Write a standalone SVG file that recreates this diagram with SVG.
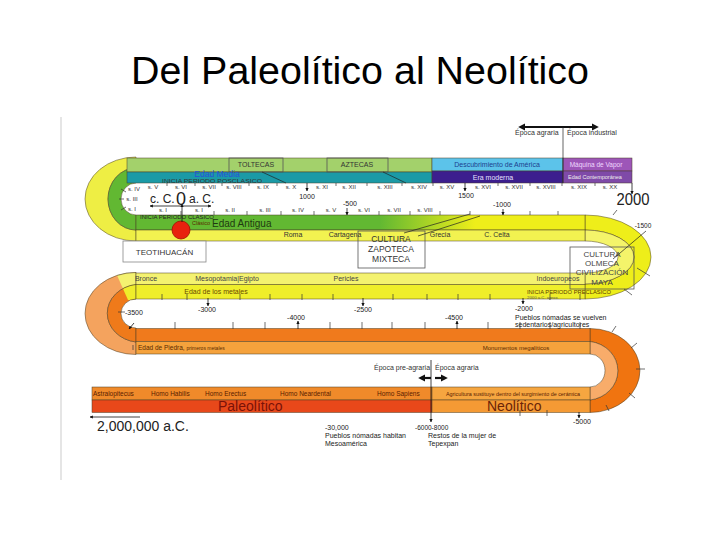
<svg xmlns="http://www.w3.org/2000/svg" width="720" height="540" viewBox="0 0 720 540">
<defs>
<style>
text{font-family:"Liberation Sans",Arial,sans-serif}
.s{font-size:6px;fill:#333;text-anchor:middle}
.sm{font-size:7px;fill:#222}
.c{text-anchor:middle}
.bd{stroke:#4a3f25;stroke-width:0.5}
.bx{fill:none;stroke:#555;stroke-width:0.8}
.ln{stroke:#222;stroke-width:0.7;fill:none}
.tk{stroke:#333;stroke-width:0.7}
.ar{stroke:#111;stroke-width:0.8;fill:none;marker-end:url(#ah)}
.bar{stroke:#111;stroke-width:2.2;fill:none}
</style>
<marker id="ah" viewBox="0 0 10 10" refX="9" refY="5" markerWidth="4" markerHeight="4" orient="auto-start-reverse"><path d="M0,0 L10,5 L0,10 z" fill="#111"/></marker>
<marker id="ahb" viewBox="0 0 10 10" refX="6" refY="5" markerWidth="3.2" markerHeight="3.2" orient="auto-start-reverse"><path d="M0,0 L10,5 L0,10 z" fill="#111"/></marker>
<linearGradient id="gg" gradientUnits="userSpaceOnUse" x1="380" y1="0" x2="475" y2="0">
<stop offset="0" stop-color="#62b832"/><stop offset="1" stop-color="#eeee1a"/>
</linearGradient>
<clipPath id="cl2"><polygon points="108,255 600,255 600,300 128,300"/></clipPath>
</defs>
<rect width="720" height="540" fill="#fff"/>
<line x1="61" y1="117" x2="61" y2="480" stroke="#d4d4d4" stroke-width="1.2"/>
<text x="360" y="84" font-size="38" fill="#000" class="c" textLength="458" lengthAdjust="spacingAndGlyphs">Del Paleolítico al Neolítico</text>

<g id="bands">
<path class="bd" fill="#eeee44" d="M136,157 A51,42 0 0 0 136,241 L136,230 A28,31 0 0 1 136,168 Z"/>
<path class="bd" fill="#62b832" d="M136,168 A28,31 0 0 0 136,230 L136,215 A15,16 0 0 1 136,183 Z"/>
<rect class="bd" x="127" y="158" width="305" height="14" fill="#a3d16b"/>
<rect class="bd" x="127" y="172" width="305" height="11" fill="#1b9aa6"/>
<rect class="bd" x="432" y="158" width="131" height="13" fill="#5cc3ea"/>
<rect class="bd" x="432" y="171" width="131" height="12" fill="#3c1e8e"/>
<rect class="bd" x="563" y="158" width="69" height="13" fill="#9d56b8"/>
<rect class="bd" x="563" y="171" width="69" height="12" fill="#7f4aa8"/>
<path class="bd" fill="#eeee1a" d="M585,215 A66,42 0 0 1 585,299 L585,284 A49,27 0 0 0 585,230 Z"/>
<path class="bd" fill="#f4f46a" d="M585,230 A49,27 0 0 1 585,284 L585,273 A33,16 0 0 0 585,241 Z"/>
<rect class="bd" x="136" y="215" width="449" height="15" fill="url(#gg)"/>
<rect class="bd" x="136" y="230" width="449" height="11" fill="#f2f250"/>
<path class="bd" fill="#f4a35e" d="M136,272.5 A51,41 0 0 0 136,354.5 L136,342 A33,29 0 0 1 136,284.5 Z"/>
<path class="bd" fill="#ef7a1a" d="M136,284.5 A33,29 0 0 0 136,342 L136,328 A15,14.5 0 0 1 136,299 Z"/>
<g clip-path="url(#cl2)">
<path class="bd" fill="#f4f270" d="M136,272.5 A51,41 0 0 0 136,354.5 L136,342 A33,29 0 0 1 136,284.5 Z"/>
<path class="bd" fill="#efee2a" d="M136,284.5 A33,29 0 0 0 136,342 L136,328 A15,14.5 0 0 1 136,299 Z"/>
</g>
<rect class="bd" x="136" y="273" width="449" height="11.5" fill="#f4f270"/>
<rect class="bd" x="136" y="284.5" width="449" height="14.5" fill="#efee2a"/>
<path class="bd" fill="#f07410" d="M590,328.5 A50,42 0 0 1 590,412.5 L590,400 A32,29.5 0 0 0 590,341.5 Z"/>
<path class="bd" fill="#f8ac6a" d="M590,341.5 A32,29.5 0 0 1 590,400 L590,387 A15,16.5 0 0 0 590,354 Z"/>
<rect class="bd" x="136" y="328.5" width="454" height="13" fill="#f07a1c"/>
<rect class="bd" x="136" y="341.5" width="454" height="12.5" fill="#f5a23c"/>
<rect class="bd" x="92" y="387" width="340" height="13" fill="#f08a2a"/>
<rect class="bd" x="92" y="400" width="340" height="12.5" fill="#e8481a"/>
<rect class="bd" x="432" y="387" width="158" height="13" fill="#f6a640"/>
<rect class="bd" x="432" y="400" width="158" height="12.5" fill="#f59a34"/>
</g>

<g id="node-toltecas"><rect class="bx" x="229" y="158" width="54" height="14"/><text x="256" y="167" font-size="7" fill="#333" class="c">TOLTECAS</text></g>
<g id="node-aztecas"><rect class="bx" x="327" y="158" width="61" height="14"/><text x="357" y="166.5" font-size="7" fill="#333" class="c">AZTECAS</text></g>
<g id="node-teotihuacan"><rect x="123" y="241" width="83" height="21" fill="#fff" stroke="#888" stroke-width="0.8"/><text x="164.5" y="255" font-size="8" fill="#333" class="c">TEOTIHUACÁN</text></g>
<g id="node-zapoteca"><rect class="bx" x="358" y="231" width="67" height="37"/>
<text x="391" y="242" font-size="8.5" fill="#333" class="c">CULTURA</text>
<text x="391" y="252" font-size="8.5" fill="#333" class="c">ZAPOTECA</text>
<text x="391" y="262" font-size="8.5" fill="#333" class="c">MIXTECA</text></g>
<g id="node-olmeca"><rect class="bx" x="570" y="247" width="64" height="42"/>
<text x="602" y="256.5" font-size="8" fill="#444" class="c">CULTURA</text>
<text x="602" y="265.5" font-size="8" fill="#444" class="c">OLMECA</text>
<text x="602" y="275" font-size="8" fill="#444" class="c">CIVILIZACIÓN</text>
<text x="602" y="284.5" font-size="8" fill="#444" class="c">MAYA</text></g>
<g id="node-circle"><circle cx="181" cy="230" r="9" fill="#e8220e" stroke="#a01000" stroke-width="0.8"/></g>

<g id="labels">
<text x="497" y="166.5" font-size="7" fill="#1d3f8f" class="c">Descubrimiento de América</text>
<text x="596" y="166.5" font-size="6.5" fill="#f0d8ff" class="c">Máquina de Vapor</text>
<text x="493" y="180" font-size="7" fill="#e4e0ff" class="c">Era moderna</text>
<text x="595" y="179" font-size="5.5" fill="#eee" class="c">Edad Contemporánea</text>
<text x="217" y="176.5" font-size="8.5" fill="#2a50d8" class="c">Edad Media</text>
<text x="212" y="182.8" font-size="4.6" fill="#333" class="c" textLength="100" lengthAdjust="spacingAndGlyphs">INICIA PERIODO POSCLASICO</text>
<text x="515" y="135" font-size="7" fill="#333">Época agraria</text>
<text x="567" y="135" font-size="7" fill="#333">Época industrial</text>

<text x="134" y="191" class="s">s. IV</text>
<text x="132" y="201" class="s">s. III</text>
<text x="132" y="211" class="s">s. I</text>
<text x="153" y="189" class="s">s. V</text>
<text x="181" y="189" class="s">s. VI</text>
<text x="209" y="189" class="s">s. VII</text>
<text x="234" y="189" class="s">s. VIII</text>
<text x="263" y="189" class="s">s. IX</text>
<text x="291" y="189" class="s">s. X</text>
<text x="322" y="189" class="s">s. XI</text>
<text x="349" y="189" class="s">s. XII</text>
<text x="385" y="189" class="s">s. XIII</text>
<text x="419" y="189" class="s">s. XIV</text>
<text x="447" y="189" class="s">s. XV</text>
<text x="483" y="189" class="s">s. XVI</text>
<text x="514" y="189" class="s">s. XVII</text>
<text x="546" y="189" class="s">s. XVIII</text>
<text x="579" y="189" class="s">s. XIX</text>
<text x="610" y="189" class="s">s. XX</text>
<text x="307" y="199" font-size="7" fill="#222" class="c">1000</text>
<text x="466" y="198" font-size="7" fill="#222" class="c">1500</text>
<text x="633" y="205" font-size="17" fill="#222" class="c" textLength="33" lengthAdjust="spacingAndGlyphs">2000</text>
<text x="150" y="203" font-size="12" fill="#222">c. C.</text>
<text x="176" y="205" font-size="18" fill="#222">0</text>
<text x="189" y="203" font-size="12" fill="#222">a. C.</text>
<text x="163" y="212" class="s">s. I</text>
<text x="199" y="212" class="s">s. I</text>
<text x="230" y="212" class="s">s. II</text>
<text x="265" y="212" class="s">s. III</text>
<text x="298" y="212" class="s">s. IV</text>
<text x="331" y="212" class="s">s. V</text>
<text x="364" y="212" class="s">s. VI</text>
<text x="394" y="212" class="s">s. VII</text>
<text x="425" y="212" class="s">s. VIII</text>
<text x="350" y="206" font-size="7" fill="#222" class="c">-500</text>
<text x="502" y="207" font-size="7" fill="#222" class="c">-1000</text>
<text x="643" y="228" font-size="6.5" fill="#222" class="c">-1500</text>

<text x="177" y="219" font-size="5.2" fill="#222" class="c" textLength="74" lengthAdjust="spacingAndGlyphs">INICIA PERIODO CLASICO</text>
<text x="192" y="225" font-size="5.5" fill="#5a2a00">Clásico</text>
<text x="212" y="227" font-size="10" fill="#1f3a10">Edad Antigua</text>
<text x="293" y="237" font-size="7" fill="#333" class="c">Roma</text>
<text x="345" y="237" font-size="7" fill="#333" class="c">Cartagena</text>
<text x="440" y="237" font-size="7" fill="#333" class="c">Grecia</text>
<text x="497" y="237" font-size="7" fill="#333" class="c">C. Celta</text>

<text x="146" y="281" font-size="7" fill="#444" class="c">Bronce</text>
<text x="227" y="281" font-size="7" fill="#444" class="c">Mesopotamia|Egipto</text>
<text x="346" y="281" font-size="7" fill="#444" class="c">Pericles</text>
<text x="558" y="281" font-size="7" fill="#444" class="c">Indoeuropeos</text>
<text x="216" y="294" font-size="7" fill="#6a4a00" class="c">Edad de los metales</text>
<text x="527" y="294" font-size="5.2" fill="#5a3a00" textLength="84" lengthAdjust="spacingAndGlyphs">INICIA PERIODO PRECLASICO</text>
<text x="527" y="299" font-size="4.3" fill="#555">2000 a.C. aprox.</text>
<text x="207" y="312" font-size="7" fill="#222" class="c">-3000</text>
<text x="363" y="312" font-size="7" fill="#222" class="c">-2500</text>
<text x="515" y="311" font-size="7" fill="#222">-2000</text>
<text x="515" y="319.5" font-size="7" fill="#222">Pueblos nómadas se vuelven</text>
<text x="515" y="327" font-size="7" fill="#222">sedentarios/agricultores</text>
<text x="125" y="315" font-size="7" fill="#222">-3500</text>
<text x="296" y="320" font-size="7" fill="#222" class="c">-4000</text>
<text x="454" y="320" font-size="7" fill="#222" class="c">-4500</text>
<text x="138" y="350" font-size="6.5" fill="#5a2a00">Edad de Piedra, <tspan font-size="5">primeros metales</tspan></text>
<text x="516" y="350" font-size="6" fill="#5a2a00" class="c">Monumentos megalíticos</text>
<text x="374" y="370" font-size="7" fill="#333">Época pre-agraria</text>
<text x="435" y="370" font-size="7" fill="#333">Época agraria</text>
<text x="93" y="396" font-size="6.5" fill="#5a2000">Astralopitecus</text>
<text x="151" y="396" font-size="6.5" fill="#5a2000">Homo Habilis</text>
<text x="205" y="396" font-size="6.5" fill="#5a2000">Homo Erectus</text>
<text x="280" y="396" font-size="6.5" fill="#5a2000">Homo Neardental</text>
<text x="377" y="396" font-size="6.5" fill="#5a2000">Homo Sapiens</text>
<text x="446" y="396" font-size="4.8" fill="#5a2000" textLength="134" lengthAdjust="spacingAndGlyphs">Agricultura sustituye dentro del surgimiento de cerámica</text>
<text x="218" y="411" font-size="14" fill="#7a1208">Paleolítico</text>
<text x="487" y="411" font-size="14" fill="#6a2508">Neolítico</text>
<text x="97" y="431" font-size="14" fill="#222">2,000,000 a.C.</text>
<text x="325" y="429.5" font-size="7" fill="#222">-30,000</text>
<text x="325" y="437.5" font-size="7" fill="#222">Pueblos nómadas habitan</text>
<text x="325" y="445.5" font-size="7" fill="#222">Mesoamérica</text>
<text x="415" y="429.5" font-size="6.5" fill="#222">-6000-8000</text>
<text x="428" y="437.5" font-size="7" fill="#222">Restos de la mujer de</text>
<text x="428" y="445.5" font-size="7" fill="#222">Tepexpan</text>
<text x="582" y="424" font-size="7" fill="#222" class="c">-5000</text>
</g>

<g id="connectors">
<line class="bar" x1="521" y1="127" x2="596" y2="127" marker-start="url(#ahb)" marker-end="url(#ahb)"/>
<line class="ln" x1="563" y1="127" x2="563" y2="183"/>
<line class="ar" x1="307" y1="183" x2="307" y2="191"/>
<line class="ar" x1="465" y1="183" x2="465" y2="191"/>
<line class="ar" x1="632" y1="183" x2="632" y2="194"/>
<line class="ar" x1="182" y1="222" x2="182" y2="204"/>
<line class="ar" x1="181" y1="206" x2="150" y2="206"/>
<line class="ar" x1="183" y1="206" x2="211" y2="206"/>
<line class="ar" x1="347" y1="208" x2="347" y2="215"/>
<line class="ar" x1="503" y1="209" x2="503" y2="215"/>
<line class="ln" x1="646" y1="231" x2="613" y2="259"/>
<line class="ln" x1="262" y1="172" x2="286" y2="183"/>
<line class="ln" x1="383" y1="172" x2="406" y2="183"/>
<line class="ln" x1="404" y1="233" x2="470" y2="214"/>
<line class="ln" x1="418" y1="236" x2="480" y2="216"/>
<line class="ar" x1="208" y1="298" x2="208" y2="306"/>
<line class="ar" x1="363" y1="298" x2="363" y2="306"/>
<line class="ar" x1="523" y1="298" x2="523" y2="304"/>
<line class="ar" x1="298" y1="329" x2="298" y2="321"/>
<line class="ar" x1="457" y1="329" x2="457" y2="321"/>
<line class="tk" x1="118" y1="312" x2="125" y2="312"/>
<line class="ar" x1="134" y1="323" x2="129" y2="329"/>
<line class="tk" x1="133" y1="345" x2="133" y2="350"/>
<line class="bar" x1="431" y1="378" x2="421" y2="378" marker-end="url(#ahb)"/>
<line class="bar" x1="435" y1="378" x2="445" y2="378" marker-end="url(#ahb)"/>
<line class="ar" x1="431" y1="360" x2="431" y2="422"/>
<line class="ar" x1="140" y1="417" x2="90" y2="417"/>
<line class="ar" x1="579" y1="412" x2="579" y2="418"/>
<g class="tk">
<line x1="121" y1="189" x2="126" y2="192"/><line x1="119" y1="199" x2="124" y2="199"/><line x1="121" y1="210" x2="126" y2="207"/>
<line x1="167" y1="183" x2="167" y2="186"/><line x1="195" y1="183" x2="195" y2="186"/><line x1="222" y1="183" x2="222" y2="186"/><line x1="249" y1="183" x2="249" y2="186"/><line x1="277" y1="183" x2="277" y2="186"/><line x1="336" y1="183" x2="336" y2="186"/><line x1="367" y1="183" x2="367" y2="186"/><line x1="402" y1="183" x2="402" y2="186"/><line x1="433" y1="183" x2="433" y2="186"/><line x1="498" y1="183" x2="498" y2="186"/><line x1="530" y1="183" x2="530" y2="186"/><line x1="562" y1="183" x2="562" y2="186"/><line x1="595" y1="183" x2="595" y2="186"/>
<line x1="181" y1="211" x2="181" y2="215"/><line x1="214" y1="211" x2="214" y2="215"/><line x1="247" y1="211" x2="247" y2="215"/><line x1="281" y1="211" x2="281" y2="215"/><line x1="314" y1="211" x2="314" y2="215"/><line x1="379" y1="211" x2="379" y2="215"/><line x1="410" y1="211" x2="410" y2="215"/><line x1="440" y1="211" x2="440" y2="215"/><line x1="470" y1="211" x2="470" y2="215"/><line x1="530" y1="211" x2="530" y2="215"/><line x1="558" y1="211" x2="558" y2="215"/>
<line x1="613" y1="215" x2="617" y2="210"/><line x1="637" y1="268" x2="650" y2="276"/><line x1="624" y1="289" x2="632" y2="295"/>
<line x1="162" y1="294" x2="162" y2="300"/><line x1="187" y1="294" x2="187" y2="300"/><line x1="240" y1="294" x2="240" y2="300"/><line x1="270" y1="294" x2="270" y2="300"/><line x1="302" y1="294" x2="302" y2="300"/><line x1="333" y1="294" x2="333" y2="300"/><line x1="393" y1="294" x2="393" y2="300"/><line x1="427" y1="294" x2="427" y2="300"/><line x1="458" y1="294" x2="458" y2="300"/><line x1="490" y1="294" x2="490" y2="300"/><line x1="550" y1="294" x2="550" y2="300"/><line x1="580" y1="294" x2="580" y2="300"/>
<line x1="175" y1="322" x2="175" y2="329"/><line x1="233" y1="322" x2="233" y2="329"/><line x1="265" y1="322" x2="265" y2="329"/><line x1="330" y1="322" x2="330" y2="329"/><line x1="362" y1="322" x2="362" y2="329"/><line x1="392" y1="322" x2="392" y2="329"/><line x1="425" y1="322" x2="425" y2="329"/><line x1="488" y1="322" x2="488" y2="329"/><line x1="520" y1="322" x2="520" y2="329"/><line x1="550" y1="322" x2="550" y2="329"/><line x1="580" y1="322" x2="580" y2="329"/>
<line x1="612" y1="332" x2="616" y2="326"/><line x1="631" y1="348" x2="637" y2="343"/><line x1="636" y1="369" x2="645" y2="369"/><line x1="629" y1="393" x2="635" y2="398"/><line x1="606" y1="405" x2="609" y2="411"/>
<line x1="520" y1="410" x2="520" y2="416"/><line x1="547" y1="410" x2="547" y2="416"/>
</g>
</g>
</svg>
